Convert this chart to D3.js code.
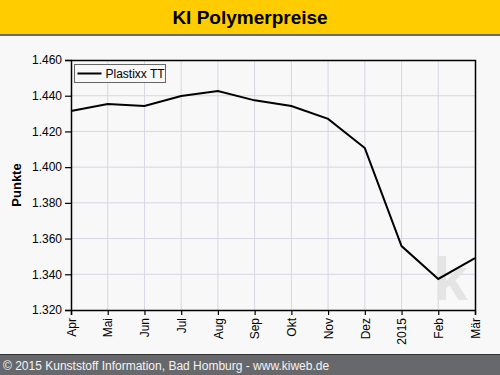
<!DOCTYPE html>
<html>
<head>
<meta charset="utf-8">
<script src="https://cdn.jsdelivr.net/npm/d3@7"></script>
<style>
  body { margin: 0; background: #f8f8f8; }
  svg { display: block; font-family: "Liberation Sans", Arial, sans-serif; }
</style>
</head>
<body>
<div class="chart"></div>
<script>
// month labels and index values
var months = ['Apr', 'Mai', 'Jun', 'Jul', 'Aug', 'Sep', 'Okt', 'Nov', 'Dez', '2015', 'Feb', 'Mär'];
var values = [1.4314, 1.4354, 1.4342, 1.4398, 1.4426, 1.4374, 1.4342, 1.4270, 1.4107, 1.3558, 1.3374, 1.3491];
var yTicks = [1.320, 1.340, 1.360, 1.380, 1.400, 1.420, 1.440, 1.460];
var seriesName = 'Plastixx TT';

var W = 500, H = 375;
var margin = { top: 60, right: 25, bottom: 65, left: 71 };
var width = W - margin.left - margin.right;
var height = H - margin.top - margin.bottom;

var svg = d3.select('.chart')
  .append('svg')
    .attr('width', W)
    .attr('height', H);

// header bar
svg.append('rect').attr('width', W).attr('height', 34).attr('fill', '#ffcc00');
svg.append('rect').attr('y', 34).attr('width', W).attr('height', 2).attr('fill', '#6b6b6b');
svg.append('text')
  .attr('x', W / 2).attr('y', 24)
  .attr('text-anchor', 'middle')
  .style('font-size', '19px').style('font-weight', 'bold')
  .text('KI Polymerpreise');

// footer bar
svg.append('rect').attr('y', 354).attr('width', W).attr('height', 21).attr('fill', '#67686c');
svg.append('rect').attr('y', 354).attr('width', W).attr('height', 1).attr('fill', '#333');
svg.append('text')
  .attr('x', 3).attr('y', 370)
  .attr('fill', '#f4f4f4')
  .style('font-size', '12px')
  .text('© 2015 Kunststoff Information, Bad Homburg - www.kiweb.de');

var g = svg.append('g')
  .attr('transform', `translate(${margin.left}, ${margin.top})`);

var xScale = d3.scalePoint()
  .domain(months)
  .range([0, width]);

var yScale = d3.scaleLinear()
  .domain([1.32, 1.46])
  .range([height, 0]);

var fmt = d3.format('.3f');

// grid lines
g.append('g')
  .selectAll('line')
  .data(months.slice(1, -1))
  .enter().append('line')
    .attr('x1', d => xScale(d)).attr('x2', d => xScale(d))
    .attr('y1', 0).attr('y2', height)
    .attr('stroke', '#d6d6e6');

g.append('g')
  .selectAll('line')
  .data(yTicks.slice(1, -1))
  .enter().append('line')
    .attr('x1', 0).attr('x2', width)
    .attr('y1', d => yScale(d)).attr('y2', d => yScale(d))
    .attr('stroke', '#d6d6e6');

// watermark
g.append('text')
  .attr('x', xScale('Feb') - 5).attr('y', height - 10)
  .attr('fill', '#e4e4e4')
  .style('font-size', '62px').style('font-weight', 'bold')
  .text('k');

// frame (top and right)
g.append('path')
  .attr('d', `M0,0.5H${width + 0.5}V${height}`)
  .attr('fill', 'none')
  .attr('stroke', '#000')
  .attr('stroke-width', 1.5);

// axes
var yAxis = g.append('g')
  .call(d3.axisLeft(yScale).tickValues(yTicks).tickFormat(fmt).tickSize(6).tickPadding(3));

var xAxis = g.append('g')
  .attr('transform', `translate(0, ${height})`)
  .call(d3.axisBottom(xScale).tickSize(5).tickPadding(3));

[yAxis, xAxis].forEach(function (ax) {
  ax.select('.domain').attr('stroke-width', 1.5);
  ax.selectAll('.tick line').attr('stroke-width', 1.2);
  ax.selectAll('text')
    .style('font-size', '12px')
    .style('font-family', '"Liberation Sans", Arial, sans-serif')
    .attr('fill', '#000');
});

xAxis.selectAll('text')
  .attr('transform', 'rotate(-90)')
  .attr('text-anchor', 'end')
  .attr('x', -8)
  .attr('y', 0)
  .attr('dy', '0.35em');

// y axis title
svg.append('text')
  .attr('transform', `translate(21, ${margin.top + height / 2}) rotate(-90)`)
  .attr('text-anchor', 'middle')
  .style('font-size', '13px').style('font-weight', 'bold')
  .text('Punkte');

// series line
var line = d3.line()
  .x((d, i) => xScale(months[i]))
  .y(d => yScale(d));

g.append('path')
  .datum(values)
  .attr('d', line)
  .attr('fill', 'none')
  .attr('stroke', '#000')
  .attr('stroke-width', 2);

// legend
var legend = g.append('g').attr('transform', 'translate(3.5, 4.5)');
legend.append('rect')
  .attr('width', 91).attr('height', 18)
  .attr('fill', '#f8f8f8')
  .attr('stroke', '#666');
legend.append('line')
  .attr('x1', 3).attr('x2', 27)
  .attr('y1', 9).attr('y2', 9)
  .attr('stroke', '#000').attr('stroke-width', 2);
legend.append('text')
  .attr('x', 31).attr('y', 13.5)
  .style('font-size', '12px')
  .text(seriesName);
</script>
</body>
</html>
